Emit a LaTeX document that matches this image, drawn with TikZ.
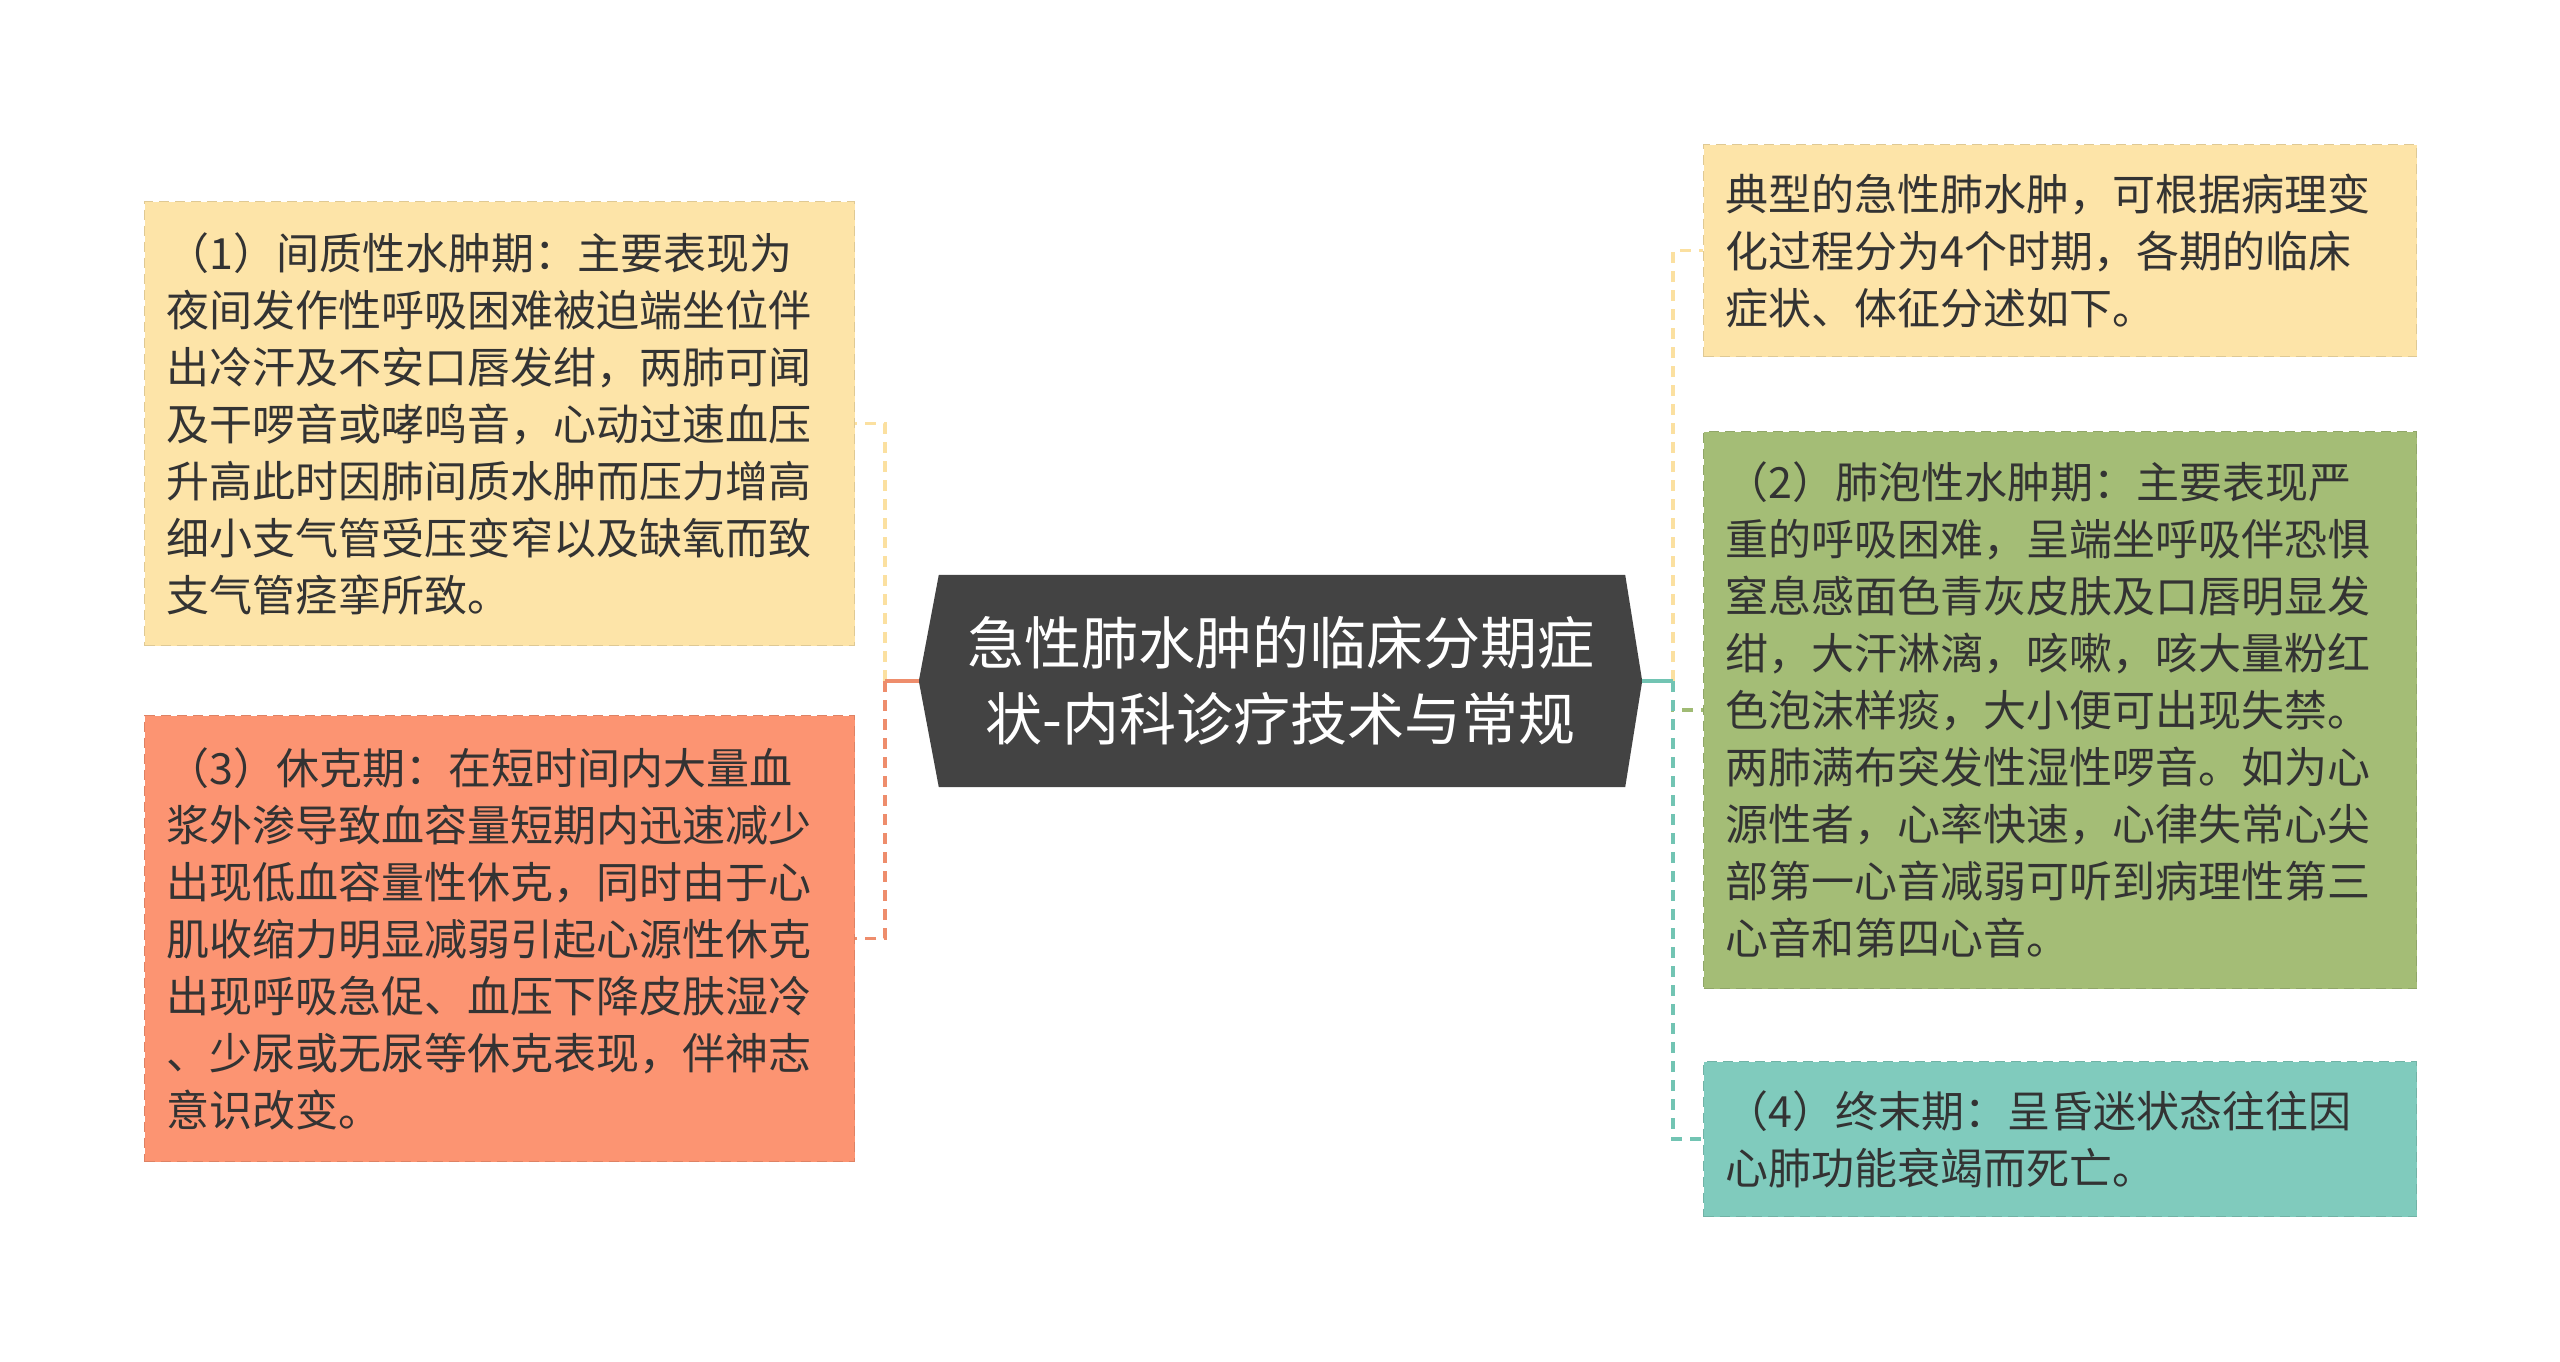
\documentclass[tikz,border=0pt]{standalone}
\usepackage{fontspec}
\setmainfont{Noto Sans CJK SC}
\usetikzlibrary{backgrounds}
\definecolor{cYel}{HTML}{FDE4A8}
\definecolor{cOra}{HTML}{FC9472}
\definecolor{cGre}{HTML}{A4BD76}
\definecolor{cTea}{HTML}{80CBBD}
\definecolor{cDark}{HTML}{434343}
\definecolor{txt}{HTML}{333333}
\definecolor{lYel}{HTML}{FBE0A0}
\definecolor{lOra}{HTML}{EE8D6C}
\definecolor{lGre}{HTML}{A0BB74}
\definecolor{lTea}{HTML}{72C4B3}
\begin{document}
\begin{tikzpicture}[x=1pt,y=-1pt,
  box/.style={rectangle, anchor=north west, inner xsep=22pt, inner ysep=0pt,
    align=left, text width=#1, text=txt, font=\fontsize{43}{57}\selectfont},
  yelbox/.style={box=666pt, fill=cYel, draw=cYel!88!black, dashed, dash pattern=on 10pt off 6pt, line width=1.2pt},
  orabox/.style={box=666pt, fill=cOra, draw=cOra!88!black, dashed, dash pattern=on 10pt off 6pt, line width=1.2pt},
  grebox/.style={box=669pt, fill=cGre, draw=cGre!88!black, dashed, dash pattern=on 10pt off 6pt, line width=1.2pt},
  teabox/.style={box=669pt, fill=cTea, draw=cTea!88!black, dashed, dash pattern=on 10pt off 6pt, line width=1.2pt},
  centerbox/.style={rectangle, minimum width=723pt, minimum height=212pt, inner sep=0pt,
    align=center, text=white, font=\fontsize{57}{76}\selectfont},
  conn/.style={line width=3.5pt, dash pattern=on 11pt off 8pt},
  stub/.style={line width=3.5pt}
]
\useasboundingbox (0,0) rectangle (2560,1361);

\node[centerbox] (c) at (1280.5,681) {急性肺水肿的临床分期症\\状-内科诊疗技术与常规};
\begin{scope}[on background layer]
\fill[cDark] ([xshift=20pt]c.north west) -- ([xshift=-17pt]c.north east) -- (c.east)
  -- ([xshift=-17pt]c.south east) -- ([xshift=20pt]c.south west) -- (c.west) -- cycle;
\end{scope}

\node[yelbox, minimum height=444pt] (L1) at (144,201) {（1）间质性水肿期：主要表现为\\夜间发作性呼吸困难被迫端坐位伴\\出冷汗及不安口唇发绀，两肺可闻\\及干啰音或哮鸣音，心动过速血压\\升高此时因肺间质水肿而压力增高\\细小支气管受压变窄以及缺氧而致\\支气管痉挛所致。};

\node[orabox, minimum height=446pt] (L3) at (144,715) {（3）休克期：在短时间内大量血\\浆外渗导致血容量短期内迅速减少\\出现低血容量性休克，同时由于心\\肌收缩力明显减弱引起心源性休克\\出现呼吸急促、血压下降皮肤湿冷\\、少尿或无尿等休克表现，伴神志\\意识改变。};

\node[yelbox, box=669pt, minimum height=212pt] (R0) at (1703,144) {典型的急性肺水肿，可根据病理变\\化过程分为4个时期，各期的临床\\症状、体征分述如下。};

\node[grebox, minimum height=557pt] (R2) at (1703,431) {（2）肺泡性水肿期：主要表现严\\重的呼吸困难，呈端坐呼吸伴恐惧\\窒息感面色青灰皮肤及口唇明显发\\绀，大汗淋漓，咳嗽，咳大量粉红\\色泡沫样痰，大小便可出现失禁。\\两肺满布突发性湿性啰音。如为心\\源性者，心率快速，心律失常心尖\\部第一心音减弱可听到病理性第三\\心音和第四心音。};

\node[teabox, minimum height=155pt] (R4) at (1703,1061) {（4）终末期：呈昏迷状态往往因\\心肺功能衰竭而死亡。};

% left connectors
\coordinate (lj) at ([xshift=-34pt]c.west);
\draw[conn, lYel] (lj) |- (L1.east);
\draw[conn, lOra] (lj) |- (L3.east);
\draw[stub, lOra] (c.west) -- (lj);

% right connectors
\coordinate (rj) at ([xshift=31pt]c.east);
\draw[conn, lYel] (rj) |- (R0.west);
\draw[conn, lGre] (rj) |- (R2.west);
\draw[conn, lTea] (rj) |- (R4.west);
\draw[stub, lTea] (c.east) -- (rj);
\end{tikzpicture}
\end{document}
